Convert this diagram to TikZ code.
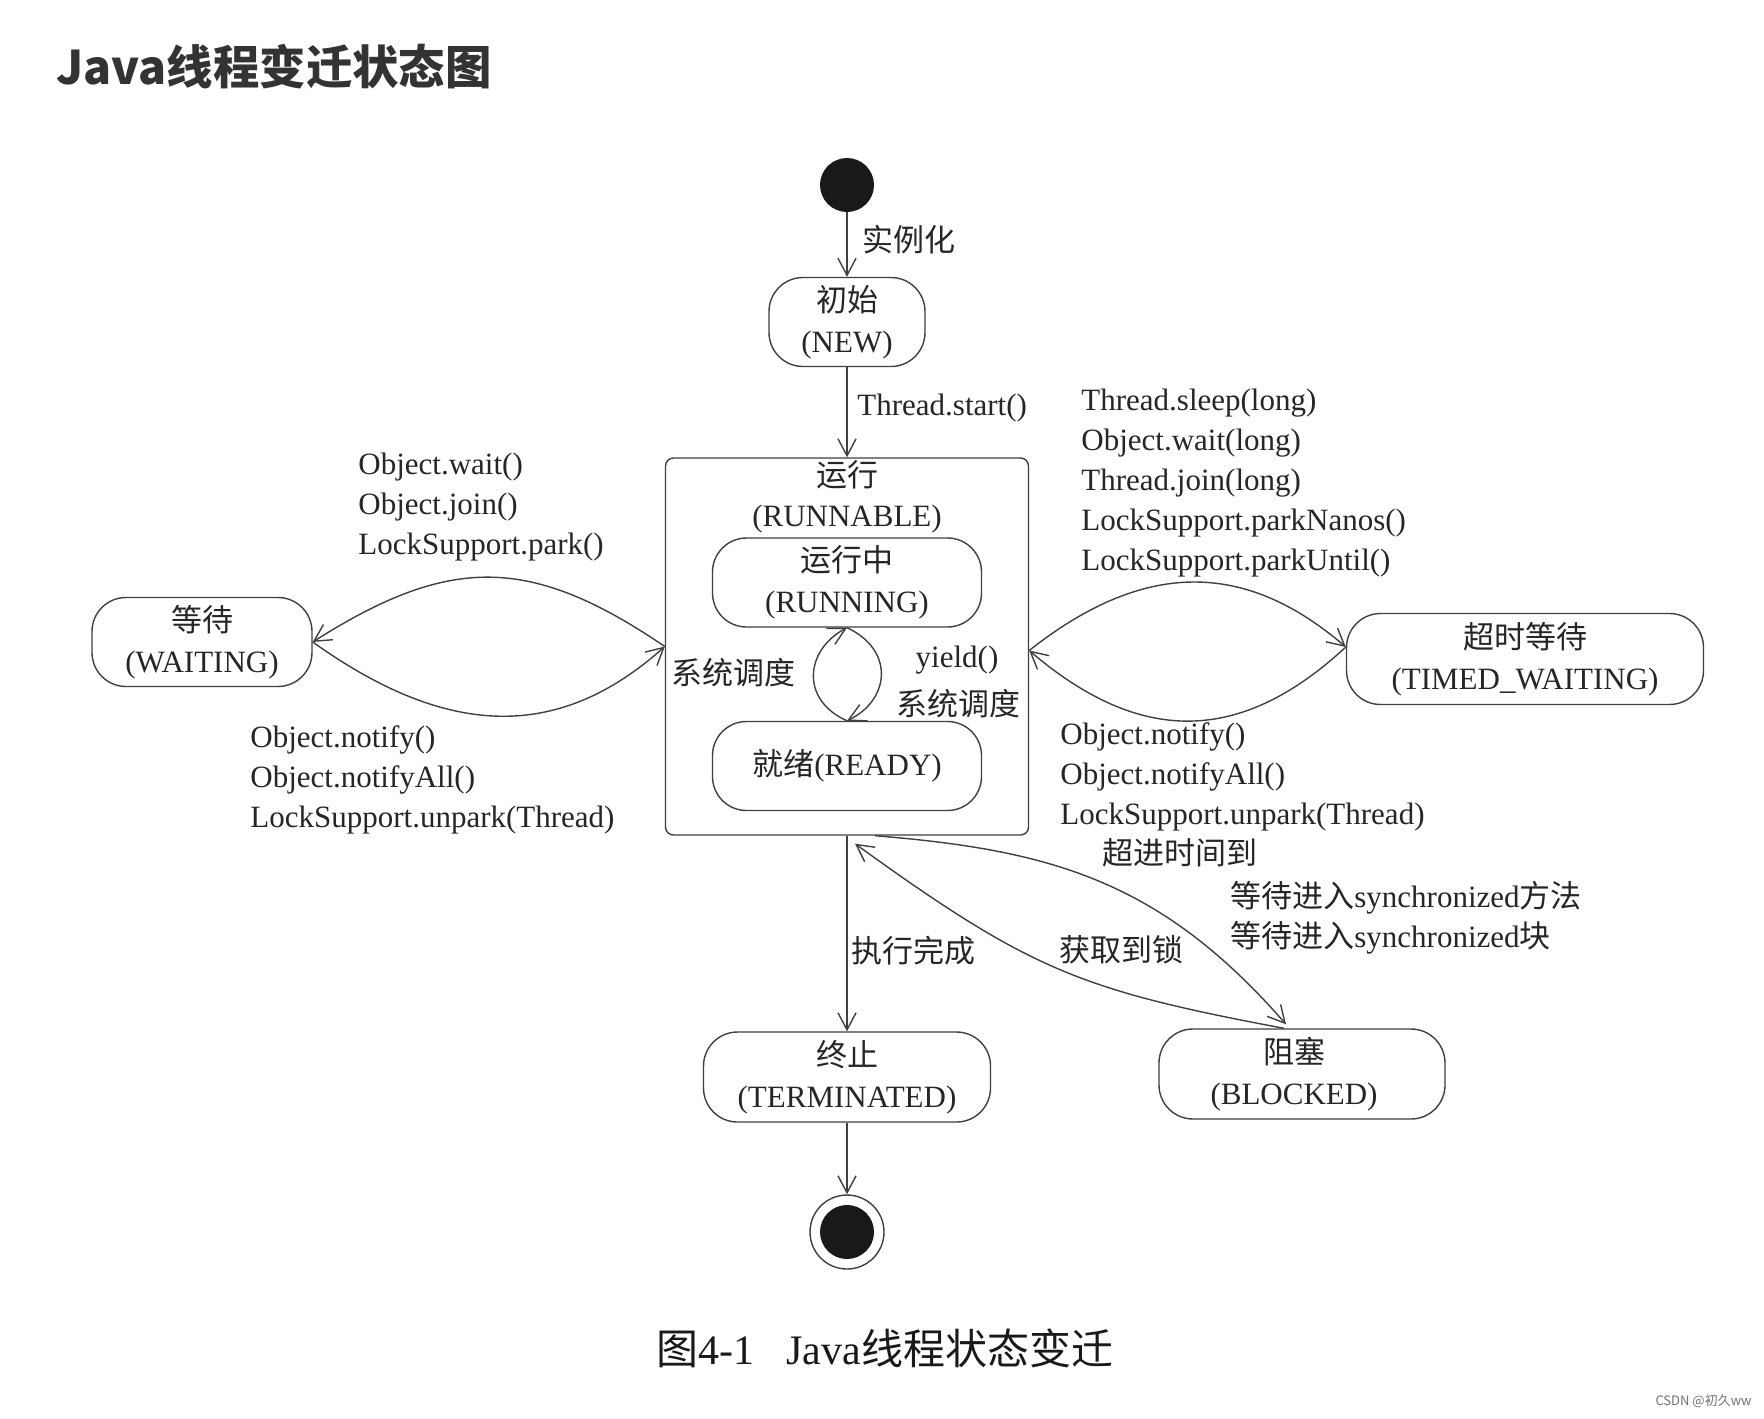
\documentclass[tikz,border=0pt]{standalone}
\usepackage{fontspec}
\setmainfont{Liberation Serif}
\newfontfamily\cjk{Noto Sans CJK SC}
\usetikzlibrary{arrows.meta,calc}
\newcommand{\zh}[1]{{\cjk #1}}
\tikzset{
  stbox/.style={draw=black!75, line width=0.7pt, rounded corners=17pt, align=center,
    inner sep=0pt, font=\fontsize{15.5}{20.5}\selectfont, text=black!85},
  arr/.style={draw=black!75, line width=0.7pt, -{Straight Barb[length=8.5pt,width=9pt]}},
  lbl/.style={inner sep=0pt, align=left, font=\fontsize{15.5}{20}\selectfont, text=black!85},
}

\begin{document}
\begin{tikzpicture}[x=0.5pt,y=-0.5pt]
			%%%%% START %%%%%
			\fill[white] (0,0) rectangle (1764,1418);
			\useasboundingbox (0,0) rectangle (1764,1418);
			
			\node[anchor=west, inner sep=0pt, text=black!80, font=\cjk\bfseries\fontsize{23.2}{28}\selectfont] (title) at (56,67) {Java线程变迁状态图};
			
			% start and end
			\node[circle, fill=black!90, minimum size=27pt, inner sep=0pt] (init) at (847,185) {};
			\node[circle, draw=black!75, line width=0.7pt, minimum size=37pt, inner sep=0pt] (fin) at (847,1232) {};
			\fill[black!90] (fin) circle (27);
			
			% states
			\node[stbox, minimum width=78pt, minimum height=44.5pt] (new) at (847,322) {\zh{初始}\\(NEW)};
			\node[draw=black!75, line width=0.7pt, rounded corners=4pt, minimum width=181.5pt, minimum height=188.5pt, inner sep=0pt] (runnable) at (847,646.5) {};
			\node[lbl, align=center] (runnablelbl) at (847,497) {\zh{运行}\\(RUNNABLE)};
			\node[stbox, minimum width=134.5pt, minimum height=44.5pt] (running) at (847,582.5) {\zh{运行中}\\(RUNNING)};
			\node[stbox, minimum width=134.5pt, minimum height=44.5pt] (ready) at (847,766) {\zh{就绪}(READY)};
			\node[stbox, minimum width=110pt, minimum height=44.5pt] (waiting) at (202,642) {\zh{等待}\\(WAITING)};
			\node[stbox, minimum width=178.5pt, minimum height=45.5pt] (timed) at (1525,659) {\zh{超时等待}\\(TIMED\_WAITING)};
			\node[stbox, minimum width=143.5pt, minimum height=45pt] (terminated) at (847,1077) {\zh{终止}\\(TERMINATED)};
			\node[stbox, minimum width=143pt, minimum height=45pt] (blocked) at (1302,1074) {\hspace*{-8pt}\zh{阻塞}\\\hspace*{-8pt}(BLOCKED)};
			
			% straight arrows
			\draw[arr] (init) -- (new);
			\draw[arr] (new) -- (runnable.north);
			\draw[arr] (runnable.south) -- (terminated);
			\draw[arr] (terminated) -- (fin);
			
			% running <-> ready
			\draw[arr] (ready.north) .. controls (800,700) and (805,650) .. (running.south);
			\draw[arr] (running.south) .. controls (895,650) and (890,700) .. (ready.north);
			
			% waiting
			\draw[arr] (runnable.west) .. controls (530,555) and (450,555) .. (waiting.east);
			\draw[arr] (waiting.east) .. controls (450,740) and (560,740) .. (runnable.west);
			
			% timed waiting
			\draw[arr] ([yshift=-2pt]runnable.east) .. controls (1150,555) and (1250,565) .. ([yshift=6pt]timed.west);
			\draw[arr] ([yshift=6pt]timed.west) .. controls (1240,745) and (1140,745) .. ([yshift=-2pt]runnable.east);
			
			% blocked
			\draw[arr] ([xshift=-9pt]blocked.north) .. controls (1080,990) and (1030,970) .. ([xshift=4pt,yshift=-4pt]runnable.south);
			\draw[arr] ([xshift=14pt]runnable.south) .. controls (1050,850) and (1160,880) .. ([xshift=-8pt,yshift=2pt]blocked.north);
			
			% labels
			\node[lbl, anchor=west] (l1) at (862,240) {\zh{实例化}};
			\node[lbl, anchor=west] (l2) at (857,408) {Thread.start()};
			\node[lbl, anchor=west] (l3) at (358,507) {Object.wait()\\Object.join()\\LockSupport.park()};
			\node[lbl, anchor=west] (l4) at (250,780) {Object.notify()\\Object.notifyAll()\\LockSupport.unpark(Thread)};
			\node[lbl, anchor=west] (l5) at (1081,483) {Thread.sleep(long)\\Object.wait(long)\\Thread.join(long)\\LockSupport.parkNanos()\\LockSupport.parkUntil()};
			\node[lbl, anchor=west] (l6) at (1060,777) {Object.notify()\\Object.notifyAll()\\LockSupport.unpark(Thread)};
			\node[lbl] (l7) at (733,673) {\zh{系统调度}};
			\node[lbl] (l8) at (957,660) {yield()};
			\node[lbl] (l9) at (958,704) {\zh{系统调度}};
			\node[lbl, anchor=west] (l10) at (1102,853) {\zh{超进时间到}};
			\node[lbl, anchor=west] (l11) at (1230,918) {\zh{等待进入}synchronized\zh{方法}\\\zh{等待进入}synchronized\zh{块}};
			\node[lbl, anchor=west] (l12) at (851,951) {\zh{执行完成}};
			\node[lbl] (l13) at (1121,950) {\zh{获取到锁}};
			
			\node[anchor=west, inner sep=0pt, text=black!90, font=\fontsize{21}{25}\selectfont] (caption) at (656,1348) {\zh{图}4-1\hspace{16pt}Java\zh{线程状态变迁}};
			\node[anchor=east, inner sep=0pt, text=black!55, font=\cjk\fontsize{6.5}{8}\selectfont] (mark) at (1752,1401) {CSDN @初久ww};
			%%%%% END %%%%%
		\end{tikzpicture}
\end{document}
